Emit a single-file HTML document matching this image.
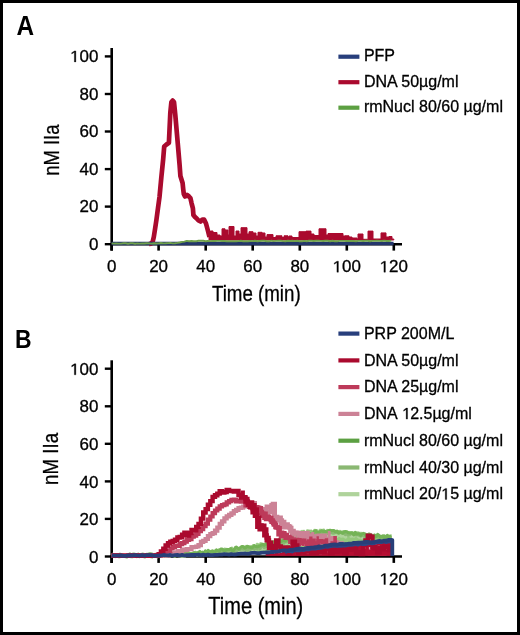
<!DOCTYPE html>
<html><head><meta charset="utf-8">
<style>
html,body{margin:0;padding:0;background:#fff;}
body{width:520px;height:635px;overflow:hidden;position:relative;}
#frame{position:absolute;left:0;top:0;width:520px;height:635px;box-sizing:border-box;border:3px solid #000;}
svg{position:absolute;left:0;top:0;will-change:transform;}
text{font-family:"Liberation Sans",sans-serif;fill:#000;}
.t{stroke:#000;stroke-width:0.3px;}
</style></head>
<body>
<div id="frame"></div>
<svg width="520" height="635" viewBox="0 0 520 635">
<text x="16.6" y="34.6" font-size="26.9" font-weight="bold" textLength="17.6" lengthAdjust="spacingAndGlyphs">A</text>
<line x1="111.7" y1="48.0" x2="111.7" y2="250.6" stroke="#000" stroke-width="2.6"/>
<line x1="110.4" y1="244.2" x2="402" y2="244.2" stroke="#000" stroke-width="2.6"/>
<line x1="104.8" y1="244.2" x2="111" y2="244.2" stroke="#000" stroke-width="2.4"/>
<g transform="translate(98.4,249.7) scale(1.06,1)"><text x="-8.90" y="0" font-size="16" class="t">0</text></g>
<line x1="104.8" y1="206.6" x2="111" y2="206.6" stroke="#000" stroke-width="2.4"/>
<g transform="translate(98.4,212.1) scale(1.06,1)"><text x="-17.80" y="0" font-size="16" class="t">20</text></g>
<line x1="104.8" y1="169.1" x2="111" y2="169.1" stroke="#000" stroke-width="2.4"/>
<g transform="translate(98.4,174.6) scale(1.06,1)"><text x="-17.80" y="0" font-size="16" class="t">40</text></g>
<line x1="104.8" y1="131.5" x2="111" y2="131.5" stroke="#000" stroke-width="2.4"/>
<g transform="translate(98.4,137.0) scale(1.06,1)"><text x="-17.80" y="0" font-size="16" class="t">60</text></g>
<line x1="104.8" y1="94.0" x2="111" y2="94.0" stroke="#000" stroke-width="2.4"/>
<g transform="translate(98.4,99.5) scale(1.06,1)"><text x="-17.80" y="0" font-size="16" class="t">80</text></g>
<line x1="104.8" y1="56.4" x2="111" y2="56.4" stroke="#000" stroke-width="2.4"/>
<g transform="translate(98.4,61.9) scale(1.06,1)"><text x="-26.70" y="0" font-size="16" class="t"> 00</text><path d="M515,0 L515,1237 L197,1010 L197,1180 L530,1409 L696,1409 L696,0 Z" transform="translate(-26.70,0) scale(0.007812,-0.007812)" fill="#000" stroke="#000" stroke-width="38.4"/></g>
<line x1="111.6" y1="244.2" x2="111.6" y2="250.6" stroke="#000" stroke-width="2.6"/>
<g transform="translate(111.6,272.2) scale(1.06,1)"><text x="-4.45" y="0" font-size="16" class="t">0</text></g>
<line x1="158.6" y1="244.2" x2="158.6" y2="250.6" stroke="#000" stroke-width="2.6"/>
<g transform="translate(158.6,272.2) scale(1.06,1)"><text x="-8.90" y="0" font-size="16" class="t">20</text></g>
<line x1="205.7" y1="244.2" x2="205.7" y2="250.6" stroke="#000" stroke-width="2.6"/>
<g transform="translate(205.7,272.2) scale(1.06,1)"><text x="-8.90" y="0" font-size="16" class="t">40</text></g>
<line x1="252.7" y1="244.2" x2="252.7" y2="250.6" stroke="#000" stroke-width="2.6"/>
<g transform="translate(252.7,272.2) scale(1.06,1)"><text x="-8.90" y="0" font-size="16" class="t">60</text></g>
<line x1="299.8" y1="244.2" x2="299.8" y2="250.6" stroke="#000" stroke-width="2.6"/>
<g transform="translate(299.8,272.2) scale(1.06,1)"><text x="-8.90" y="0" font-size="16" class="t">80</text></g>
<line x1="346.8" y1="244.2" x2="346.8" y2="250.6" stroke="#000" stroke-width="2.6"/>
<g transform="translate(346.8,272.2) scale(1.06,1)"><text x="-13.35" y="0" font-size="16" class="t"> 00</text><path d="M515,0 L515,1237 L197,1010 L197,1180 L530,1409 L696,1409 L696,0 Z" transform="translate(-13.35,0) scale(0.007812,-0.007812)" fill="#000" stroke="#000" stroke-width="38.4"/></g>
<line x1="393.8" y1="244.2" x2="393.8" y2="250.6" stroke="#000" stroke-width="2.6"/>
<g transform="translate(393.8,272.2) scale(1.06,1)"><text x="-13.35" y="0" font-size="16" class="t"> 20</text><path d="M515,0 L515,1237 L197,1010 L197,1180 L530,1409 L696,1409 L696,0 Z" transform="translate(-13.35,0) scale(0.007812,-0.007812)" fill="#000" stroke="#000" stroke-width="38.4"/></g>
<polygon points="209.0,240.0 209.0,236.0 210.5,236.0 210.5,231.0 213.0,231.0 213.0,232.5 217.0,232.5 217.0,235.0 220.0,235.0 220.0,236.0 222.0,236.0 222.0,228.8 225.0,228.8 225.0,230.0 228.0,230.0 228.0,235.0 229.0,235.0 229.0,226.5 234.0,226.5 234.0,236.0 236.0,236.0 236.0,231.0 239.0,231.0 239.0,234.0 241.0,234.0 241.0,227.7 247.0,227.7 247.0,234.0 249.0,234.0 249.0,231.7 253.0,231.7 253.0,233.0 256.0,233.0 256.0,236.0 258.0,236.0 258.0,232.3 262.0,232.3 262.0,233.0 265.0,233.0 265.0,237.0 267.0,237.0 267.0,234.6 273.0,234.6 273.0,237.5 276.0,237.5 276.0,235.8 282.0,235.8 282.0,237.5 284.0,237.5 284.0,235.8 288.0,235.8 288.0,237.0 289.0,237.0 289.0,236.0 292.0,236.0 292.0,237.5 299.0,237.5 299.0,231.7 306.0,231.7 306.0,231.1 311.0,231.1 311.0,234.0 314.0,234.0 314.0,235.5 319.0,235.5 319.0,228.8 326.0,228.8 326.0,235.0 328.0,235.0 328.0,233.5 343.0,233.5 343.0,236.0 345.0,236.0 345.0,235.8 349.0,235.8 349.0,237.0 352.0,237.0 352.0,238.0 357.0,238.0 357.0,239.0 358.0,239.0 358.0,234.0 363.0,234.0 363.0,239.3 368.0,239.3 368.0,231.1 373.0,231.1 373.0,239.0 381.0,239.0 381.0,232.9 386.0,232.9 386.0,237.0 389.0,237.0 389.0,236.5 392.0,236.5 392.0,239.0 393.8,239.0 393.8,240.0" fill="#aa0a2e" stroke="#aa0a2e" stroke-width="1.0" stroke-linejoin="round"/>
<polyline points="149.0,243.8 151.0,243.6 152.6,242.0 153.8,237.0 155.2,228.0 156.4,220.0 158.0,208.0 159.5,197.0 161.3,177.8 163.2,159.0 164.2,146.5 166.5,144.5 168.9,142.8 170.3,113.0 171.4,102.0 172.7,100.6 174.0,102.0 175.3,115.0 177.9,145.0 179.6,165.0 180.4,176.0 182.6,183.0 183.2,189.0 183.8,194.0 185.0,196.5 187.0,195.0 189.0,196.5 190.4,198.0 191.6,203.3 192.9,208.4 193.4,215.0 195.0,217.0 196.7,218.5 198.5,220.5 200.5,221.5 202.5,219.5 204.2,219.7 206.0,223.5 208.0,231.0 209.5,237.0" fill="none" stroke="#aa0a2e" stroke-width="4.7" stroke-linejoin="round" stroke-miterlimit="3"/>
<polyline points="111.6,243.5 393.6,243.5" fill="none" stroke="#24366c" stroke-width="3.6" stroke-linejoin="round" stroke-miterlimit="3"/>
<polyline points="111.6,243.4 113.9,243.6 116.3,243.5 118.6,243.6 121.0,243.6 123.3,243.3 125.7,243.2 128.0,243.7 130.4,243.3 132.7,243.3 135.1,243.7 137.4,243.4 139.8,243.6 142.1,243.4 144.5,243.5 146.8,243.2 149.2,243.4 151.5,243.6 153.9,243.3 156.2,243.5 158.6,243.4 160.9,243.0 163.3,243.4 165.6,243.3 168.0,243.1 170.3,242.9 172.7,243.4 175.0,243.2 177.4,242.9 179.7,242.5 182.1,241.9 184.4,241.6 186.8,240.9 189.1,241.2 191.5,241.0 193.8,241.3 196.2,241.2 198.5,240.8 200.9,240.8 203.2,240.8 205.6,241.3 207.9,241.0 210.3,241.1 212.6,240.9 215.0,241.0 217.3,240.9 219.7,240.9 222.0,241.0 224.4,241.0 226.7,241.2 229.1,241.1 231.4,241.2 233.8,241.2 236.1,241.3 238.5,241.1 240.8,240.8 243.2,241.2 245.5,241.3 247.9,241.2 250.2,241.0 252.6,241.1 254.9,240.8 257.3,241.2 259.6,241.0 262.0,240.8 264.3,240.7 266.7,241.2 269.0,241.3 271.4,240.7 273.7,241.1 276.1,240.9 278.4,240.7 280.8,240.8 283.1,241.1 285.5,241.2 287.8,240.7 290.2,241.0 292.6,240.7 294.9,241.1 297.3,240.8 299.6,241.2 302.0,241.2 304.3,240.9 306.7,241.2 309.0,240.8 311.4,240.7 313.7,241.0 316.1,240.7 318.4,240.8 320.8,240.9 323.1,241.0 325.5,240.7 327.8,240.7 330.2,241.2 332.5,240.8 334.9,241.2 337.2,241.2 339.6,240.9 341.9,240.9 344.3,240.9 346.6,241.0 349.0,241.0 351.3,241.0 353.7,241.0 356.0,241.2 358.4,240.9 360.7,240.9 363.1,241.0 365.4,240.8 367.8,240.8 370.1,241.2 372.5,240.9 374.8,240.9 377.2,240.6 379.5,240.9 381.9,241.0 384.2,240.6 386.6,241.0 388.9,241.0 391.3,240.6" fill="none" stroke="#6fa04a" stroke-width="1.9" stroke-linejoin="round" stroke-miterlimit="3"/>
<text x="211.9" y="300.8" font-size="21.5" textLength="88.8" lengthAdjust="spacingAndGlyphs" class="t">Time (min)</text>
<text transform="translate(58.6,175.8) rotate(-90)" x="0" y="0" font-size="21.5" textLength="51.2" lengthAdjust="spacingAndGlyphs" class="t">nM IIa</text>
<rect x="338.4" y="54.6" width="21" height="4.2" fill="#283f7c"/>
<g transform="translate(363.9,61.0)"><text x="0.00" y="0" font-size="16" class="t">PFP</text></g>
<rect x="338.4" y="80.1" width="21" height="4.2" fill="#aa0a2e"/>
<g transform="translate(363.9,86.5)"><text x="0.00" y="0" font-size="16" class="t">DNA 50µg/ml</text></g>
<rect x="338.4" y="105.6" width="21" height="4.2" fill="#5ca042"/>
<g transform="translate(363.9,112.0)"><text x="0.00" y="0" font-size="16" class="t">rmNucl 80/60 µg/ml</text></g>
<text x="15.0" y="347.8" font-size="26.2" font-weight="bold" textLength="16.6" lengthAdjust="spacingAndGlyphs">B</text>
<line x1="111.7" y1="360.3" x2="111.7" y2="562.9" stroke="#000" stroke-width="2.6"/>
<line x1="110.4" y1="556.5" x2="402" y2="556.5" stroke="#000" stroke-width="2.6"/>
<line x1="104.8" y1="556.5" x2="111" y2="556.5" stroke="#000" stroke-width="2.4"/>
<g transform="translate(98.4,562.6) scale(1.06,1)"><text x="-8.90" y="0" font-size="16" class="t">0</text></g>
<line x1="104.8" y1="518.9" x2="111" y2="518.9" stroke="#000" stroke-width="2.4"/>
<g transform="translate(98.4,525.0) scale(1.06,1)"><text x="-17.80" y="0" font-size="16" class="t">20</text></g>
<line x1="104.8" y1="481.4" x2="111" y2="481.4" stroke="#000" stroke-width="2.4"/>
<g transform="translate(98.4,487.5) scale(1.06,1)"><text x="-17.80" y="0" font-size="16" class="t">40</text></g>
<line x1="104.8" y1="443.8" x2="111" y2="443.8" stroke="#000" stroke-width="2.4"/>
<g transform="translate(98.4,449.9) scale(1.06,1)"><text x="-17.80" y="0" font-size="16" class="t">60</text></g>
<line x1="104.8" y1="406.3" x2="111" y2="406.3" stroke="#000" stroke-width="2.4"/>
<g transform="translate(98.4,412.4) scale(1.06,1)"><text x="-17.80" y="0" font-size="16" class="t">80</text></g>
<line x1="104.8" y1="368.7" x2="111" y2="368.7" stroke="#000" stroke-width="2.4"/>
<g transform="translate(98.4,374.8) scale(1.06,1)"><text x="-26.70" y="0" font-size="16" class="t"> 00</text><path d="M515,0 L515,1237 L197,1010 L197,1180 L530,1409 L696,1409 L696,0 Z" transform="translate(-26.70,0) scale(0.007812,-0.007812)" fill="#000" stroke="#000" stroke-width="38.4"/></g>
<line x1="111.6" y1="556.5" x2="111.6" y2="562.9" stroke="#000" stroke-width="2.6"/>
<g transform="translate(111.6,584.5) scale(1.06,1)"><text x="-4.45" y="0" font-size="16" class="t">0</text></g>
<line x1="158.6" y1="556.5" x2="158.6" y2="562.9" stroke="#000" stroke-width="2.6"/>
<g transform="translate(158.6,584.5) scale(1.06,1)"><text x="-8.90" y="0" font-size="16" class="t">20</text></g>
<line x1="205.7" y1="556.5" x2="205.7" y2="562.9" stroke="#000" stroke-width="2.6"/>
<g transform="translate(205.7,584.5) scale(1.06,1)"><text x="-8.90" y="0" font-size="16" class="t">40</text></g>
<line x1="252.7" y1="556.5" x2="252.7" y2="562.9" stroke="#000" stroke-width="2.6"/>
<g transform="translate(252.7,584.5) scale(1.06,1)"><text x="-8.90" y="0" font-size="16" class="t">60</text></g>
<line x1="299.8" y1="556.5" x2="299.8" y2="562.9" stroke="#000" stroke-width="2.6"/>
<g transform="translate(299.8,584.5) scale(1.06,1)"><text x="-8.90" y="0" font-size="16" class="t">80</text></g>
<line x1="346.8" y1="556.5" x2="346.8" y2="562.9" stroke="#000" stroke-width="2.6"/>
<g transform="translate(346.8,584.5) scale(1.06,1)"><text x="-13.35" y="0" font-size="16" class="t"> 00</text><path d="M515,0 L515,1237 L197,1010 L197,1180 L530,1409 L696,1409 L696,0 Z" transform="translate(-13.35,0) scale(0.007812,-0.007812)" fill="#000" stroke="#000" stroke-width="38.4"/></g>
<line x1="393.8" y1="556.5" x2="393.8" y2="562.9" stroke="#000" stroke-width="2.6"/>
<g transform="translate(393.8,584.5) scale(1.06,1)"><text x="-13.35" y="0" font-size="16" class="t"> 20</text><path d="M515,0 L515,1237 L197,1010 L197,1180 L530,1409 L696,1409 L696,0 Z" transform="translate(-13.35,0) scale(0.007812,-0.007812)" fill="#000" stroke="#000" stroke-width="38.4"/></g>
<polygon points="150.0,556.1 151.8,556.1 151.8,555.3 153.6,555.3 153.6,555.1 155.4,555.1 155.4,556.1 157.2,556.1 157.2,554.8 159.0,554.8 159.0,555.4 160.8,555.4 160.8,555.6 162.6,555.6 162.6,555.6 164.4,555.6 164.4,554.8 166.2,554.8 166.2,555.6 168.0,555.6 168.0,555.2 169.8,555.2 169.8,555.7 171.6,555.7 171.6,554.2 173.4,554.2 173.4,555.7 175.2,555.7 175.2,554.2 177.0,554.2 177.0,555.2 178.8,555.2 178.8,554.6 180.6,554.6 180.6,555.0 182.4,555.0 182.4,553.7 184.2,553.7 184.2,553.7 186.0,553.7 186.0,553.1 187.8,553.1 187.8,554.1 189.6,554.1 189.6,553.5 191.4,553.5 191.4,552.7 193.2,552.7 193.2,552.4 195.0,552.4 195.0,552.0 196.8,552.0 196.8,552.0 198.6,552.0 198.6,552.5 200.4,552.5 200.4,552.0 202.2,552.0 202.2,552.2 204.0,552.2 204.0,550.8 205.8,550.8 205.8,552.0 207.6,552.0 207.6,551.9 209.4,551.9 209.4,551.2 211.2,551.2 211.2,551.0 213.0,551.0 213.0,550.9 214.8,550.9 214.8,549.3 216.6,549.3 216.6,549.7 218.4,549.7 218.4,548.7 220.2,548.7 220.2,549.7 222.0,549.7 222.0,549.0 223.8,549.0 223.8,548.0 225.6,548.0 225.6,548.3 227.4,548.3 227.4,548.7 229.2,548.7 229.2,548.1 231.0,548.1 231.0,547.1 232.8,547.1 232.8,548.3 234.6,548.3 234.6,546.5 236.4,546.5 236.4,547.7 238.2,547.7 238.2,547.7 240.0,547.7 240.0,547.1 241.8,547.1 241.8,547.2 243.6,547.2 243.6,546.2 245.4,546.2 245.4,545.4 247.2,545.4 247.2,545.6 249.0,545.6 249.0,545.8 250.8,545.8 250.8,545.5 252.6,545.5 252.6,544.5 254.4,544.5 254.4,545.2 256.2,545.2 256.2,543.3 258.0,543.3 258.0,543.8 259.8,543.8 259.8,542.7 261.6,542.7 261.6,543.0 263.4,543.0 263.4,543.8 265.2,543.8 265.2,541.9 267.0,541.9 267.0,543.2 268.8,543.2 268.8,542.8 270.6,542.8 270.6,542.1 272.4,542.1 272.4,540.6 274.2,540.6 274.2,541.1 276.0,541.1 276.0,541.1 277.8,541.1 277.8,539.5 279.6,539.5 279.6,539.4 281.4,539.4 281.4,538.6 283.2,538.6 283.2,539.4 285.0,539.4 285.0,539.1 286.8,539.1 286.8,538.6 288.6,538.6 288.6,537.8 290.4,537.8 290.4,536.9 292.2,536.9 292.2,535.0 294.0,535.0 294.0,534.8 295.8,534.8 295.8,534.3 297.6,534.3 297.6,533.3 299.4,533.3 299.4,531.0 301.2,531.0 301.2,530.4 303.0,530.4 303.0,530.3 304.8,530.3 304.8,531.5 306.6,531.5 306.6,529.8 308.4,529.8 308.4,530.0 310.2,530.0 310.2,530.0 312.0,530.0 312.0,530.7 313.8,530.7 313.8,529.3 315.6,529.3 315.6,529.5 317.4,529.5 317.4,530.4 319.2,530.4 319.2,529.2 321.0,529.2 321.0,529.3 322.8,529.3 322.8,529.0 324.6,529.0 324.6,530.7 326.4,530.7 326.4,529.4 328.2,529.4 328.2,529.8 330.0,529.8 330.0,529.6 331.8,529.6 331.8,530.9 333.6,530.9 333.6,530.6 335.4,530.6 335.4,530.6 337.2,530.6 337.2,530.6 339.0,530.6 339.0,530.4 340.8,530.4 340.8,531.6 342.6,531.6 342.6,530.5 344.4,530.5 344.4,531.7 346.2,531.7 346.2,531.3 348.0,531.3 348.0,531.4 349.8,531.4 349.8,531.9 351.6,531.9 351.6,531.6 353.4,531.6 353.4,532.5 355.2,532.5 355.2,531.7 357.0,531.7 357.0,531.8 358.8,531.8 358.8,532.2 360.6,532.2 360.6,532.3 362.4,532.3 362.4,533.9 364.2,533.9 364.2,533.4 366.0,533.4 366.0,533.9 367.8,533.9 367.8,534.3 369.6,534.3 369.6,533.4 371.4,533.4 371.4,535.0 373.2,535.0 373.2,534.1 375.0,534.1 375.0,534.4 376.8,534.4 376.8,534.6 378.6,534.6 378.6,535.2 380.4,535.2 380.4,535.5 382.2,535.5 382.2,534.6 384.0,534.6 384.0,535.9 385.8,535.9 385.8,535.3 387.6,535.3 387.6,535.2 389.4,535.2 389.4,536.4 391.2,536.4 391.2,536.6 392.0,540.0 380.0,541.1 360.0,542.8 340.0,544.2 320.0,546.4 300.0,548.9 280.0,551.1 260.0,552.8 240.0,553.9 220.0,554.6 200.0,555.0 180.0,555.2 160.0,555.4 150.0,555.4" fill="#95c87c" stroke="#95c87c" stroke-width="0.8" stroke-linejoin="round"/>
<polyline points="111.6,554.3 113.0,554.6 114.4,555.2 115.8,555.9 117.2,554.6 118.6,554.6 120.0,554.9 121.4,556.1 122.8,554.7 124.2,556.1 125.6,555.9 127.0,554.6 128.4,555.6 129.8,555.4 131.2,555.3 132.6,556.7 134.0,554.5 135.4,554.3 136.8,556.6 138.2,555.3 139.6,554.8 141.0,555.1 142.4,555.2 143.8,556.6 145.2,554.8 146.6,554.8 148.0,555.7 149.4,555.6 150.8,556.6 152.2,556.3 153.6,555.2 155.0,554.8 156.4,556.3 157.8,556.7 159.2,554.4 160.6,556.1 162.0,556.4 163.4,555.9 164.8,554.8 166.2,556.2 167.6,556.1 169.0,554.8 170.4,555.8 171.8,554.8 173.2,554.3 174.6,555.0 176.0,554.9 177.4,555.0 178.8,555.6 180.2,556.0 181.6,556.2 183.0,556.2 184.4,556.2 185.8,555.6 187.2,554.4 188.6,554.0 190.0,555.0 191.4,554.7 192.8,555.0 194.2,553.5 195.6,553.7 197.0,555.3 198.4,554.5 199.8,554.6 201.2,553.1 202.6,553.8 204.0,554.9 205.4,554.2 206.8,554.9 208.2,552.9 209.6,553.5 211.0,554.2 212.4,553.3 213.8,554.0 215.2,553.4 216.6,552.3 218.0,552.2 219.4,554.2 220.8,552.0 222.2,552.1 223.6,552.3 225.0,553.1 226.4,553.3 227.8,552.3 229.2,552.2 230.6,552.8 232.0,551.5 233.4,551.6 234.8,552.0 236.2,552.0 237.6,550.4 239.0,550.5 240.4,550.4 241.8,551.7 243.2,551.5 244.6,552.1 246.0,551.5 247.4,550.1 248.8,551.2 250.2,551.6 251.6,549.9 253.0,548.9 254.4,549.5 255.8,549.1 257.2,548.6 258.6,548.1 260.0,548.1 261.4,549.7 262.8,547.5 264.2,548.6 265.6,547.5 267.0,547.2 268.4,548.5 269.8,547.0 271.2,546.6 272.6,547.0 274.0,547.4 275.4,546.7 276.8,547.3 278.2,546.0 279.6,546.1 281.0,546.2 282.4,545.1 283.8,545.3 285.2,544.2 286.6,543.0 288.0,542.5 289.4,543.6 290.8,543.1 292.2,543.1 293.6,542.0 295.0,541.3 296.4,539.9 297.8,541.1 299.2,538.8 300.6,539.2 302.0,538.4 303.4,538.8 304.8,538.4 306.2,538.5 307.6,539.0 309.0,538.4 310.4,537.5 311.8,538.6 313.2,538.3 314.6,538.3 316.0,536.2 317.4,537.5 318.8,537.9 320.2,536.2 321.6,535.9 323.0,537.2 324.4,535.9 325.8,535.8 327.2,536.6 328.6,535.4 330.0,534.8 331.4,534.9 332.8,535.2 334.2,536.1 335.6,535.4 337.0,536.4 338.4,534.7 339.8,535.2 341.2,536.2 342.6,535.9 344.0,536.0 345.4,537.1 346.8,535.5 348.2,535.3 349.6,535.0 351.0,536.2 352.4,535.8 353.8,536.2 355.2,535.2 356.6,535.2 358.0,536.1 359.4,537.1 360.8,536.1 362.2,537.7 363.6,537.0 365.0,536.7 366.4,537.7 367.8,536.5 369.2,537.5 370.6,538.2 372.0,537.5 373.4,537.1 374.8,536.7 376.2,537.9 377.6,537.1 379.0,537.7 380.4,538.2 381.8,539.3 383.2,538.7 384.6,538.5 386.0,539.4 387.4,538.2 388.8,538.5 390.2,539.3 391.6,539.1" fill="none" stroke="#afd39b" stroke-width="3.2" stroke-linejoin="round" stroke-miterlimit="3"/>
<polyline points="111.6,554.3 113.0,554.7 114.4,554.9 115.8,556.6 117.2,555.5 118.6,556.1 120.0,554.3 121.4,555.5 122.8,556.4 124.2,555.5 125.6,556.7 127.0,556.5 128.4,555.1 129.8,554.0 131.2,556.1 132.6,554.4 134.0,554.0 135.4,556.1 136.8,556.4 138.2,556.3 139.6,556.7 141.0,554.6 142.4,554.2 143.8,554.3 145.2,556.7 146.6,554.3 148.0,554.4 149.4,554.0 150.8,554.1 152.2,554.1 153.6,554.9 155.0,554.4 156.4,554.8 157.8,556.5 159.2,554.4 160.6,556.2 162.0,556.0 163.4,555.5 164.8,555.5 166.2,556.0 167.6,555.5 169.0,554.4 170.4,554.7 171.8,554.4 173.2,554.8 174.6,556.4 176.0,554.7 177.4,553.7 178.8,554.7 180.2,555.6 181.6,554.5 183.0,555.1 184.4,553.3 185.8,553.1 187.2,554.7 188.6,552.9 190.0,553.5 191.4,553.7 192.8,553.1 194.2,552.5 195.6,552.4 197.0,554.9 198.4,554.1 199.8,554.8 201.2,553.4 202.6,554.6 204.0,554.2 205.4,553.4 206.8,553.0 208.2,552.8 209.6,551.9 211.0,552.2 212.4,553.1 213.8,551.5 215.2,553.2 216.6,552.1 218.0,552.3 219.4,552.8 220.8,552.2 222.2,550.6 223.6,550.8 225.0,550.0 226.4,550.0 227.8,552.4 229.2,551.3 230.6,552.2 232.0,551.6 233.4,550.1 234.8,551.7 236.2,551.5 237.6,550.0 239.0,548.8 240.4,549.3 241.8,548.7 243.2,549.1 244.6,548.1 246.0,549.7 247.4,550.3 248.8,548.0 250.2,549.4 251.6,548.7 253.0,548.3 254.4,549.3 255.8,547.6 257.2,548.7 258.6,546.4 260.0,548.8 261.4,546.3 262.8,545.5 264.2,547.7 265.6,546.9 267.0,546.5 268.4,546.4 269.8,545.0 271.2,544.0 272.6,544.3 274.0,545.7 275.4,545.5 276.8,543.1 278.2,543.4 279.6,543.1 281.0,544.1 282.4,541.3 283.8,543.3 285.2,541.3 286.6,541.9 288.0,540.4 289.4,540.0 290.8,541.8 292.2,540.1 293.6,540.9 295.0,540.0 296.4,539.1 297.8,536.7 299.2,537.6 300.6,538.1 302.0,536.2 303.4,534.4 304.8,534.2 306.2,536.2 307.6,536.1 309.0,533.9 310.4,534.0 311.8,534.9 313.2,534.2 314.6,533.2 316.0,535.3 317.4,534.1 318.8,533.2 320.2,532.1 321.6,533.4 323.0,533.9 324.4,532.2 325.8,531.8 327.2,533.4 328.6,533.8 330.0,532.2 331.4,532.5 332.8,533.1 334.2,532.9 335.6,531.9 337.0,532.4 338.4,532.3 339.8,532.4 341.2,532.2 342.6,533.1 344.0,532.8 345.4,534.6 346.8,533.3 348.2,535.2 349.6,534.8 351.0,533.5 352.4,533.3 353.8,534.7 355.2,534.6 356.6,534.9 358.0,533.9 359.4,535.3 360.8,536.1 362.2,535.4 363.6,535.0 365.0,537.1 366.4,535.5 367.8,537.6 369.2,536.9 370.6,535.1 372.0,536.5 373.4,535.7 374.8,537.6 376.2,536.7 377.6,535.9 379.0,538.4 380.4,538.0 381.8,537.6 383.2,537.6 384.6,536.3 386.0,538.9 387.4,537.1 388.8,537.8 390.2,537.8 391.6,537.9" fill="none" stroke="#8ab872" stroke-width="3.2" stroke-linejoin="round" stroke-miterlimit="3"/>
<polyline points="111.6,555.7 113.0,555.9 114.4,556.5 115.8,554.8 117.2,556.0 118.6,556.7 120.0,556.8 121.4,554.5 122.8,555.9 124.2,555.8 125.6,555.5 127.0,556.9 128.4,555.5 129.8,555.2 131.2,556.8 132.6,555.8 134.0,554.8 135.4,554.8 136.8,555.4 138.2,554.0 139.6,555.7 141.0,556.1 142.4,555.1 143.8,556.5 145.2,556.7 146.6,555.5 148.0,555.9 149.4,554.1 150.8,553.9 152.2,556.9 153.6,554.6 155.0,554.4 156.4,556.6 157.8,556.1 159.2,554.1 160.6,554.7 162.0,554.4 163.4,554.4 164.8,553.5 166.2,555.1 167.6,554.4 169.0,554.6 170.4,553.8 171.8,553.5 173.2,553.2 174.6,555.8 176.0,555.3 177.4,554.6 178.8,553.1 180.2,553.1 181.6,552.9 183.0,553.5 184.4,552.6 185.8,553.2 187.2,552.8 188.6,552.7 190.0,554.1 191.4,553.4 192.8,553.4 194.2,552.9 195.6,553.4 197.0,554.0 198.4,552.3 199.8,551.4 201.2,552.6 202.6,552.1 204.0,553.2 205.4,550.9 206.8,553.2 208.2,550.3 209.6,551.9 211.0,551.4 212.4,550.8 213.8,552.5 215.2,551.8 216.6,549.9 218.0,550.8 219.4,551.0 220.8,549.0 222.2,549.0 223.6,550.5 225.0,550.8 226.4,549.8 227.8,549.5 229.2,549.6 230.6,548.6 232.0,550.4 233.4,550.5 234.8,548.7 236.2,547.0 237.6,548.0 239.0,549.1 240.4,547.4 241.8,546.5 243.2,546.5 244.6,548.0 246.0,547.5 247.4,546.2 248.8,547.1 250.2,547.3 251.6,547.8 253.0,547.1 254.4,545.6 255.8,546.6 257.2,546.8 258.6,546.4 260.0,545.8 261.4,545.0 262.8,544.4 264.2,545.2 265.6,544.2 267.0,544.2 268.4,542.3 269.8,541.6 271.2,541.8 272.6,542.5 274.0,542.2 275.4,540.7 276.8,540.4 278.2,542.5 279.6,539.4 281.0,541.8 282.4,541.0 283.8,540.1 285.2,541.1 286.6,539.8 288.0,537.4 289.4,540.0 290.8,537.9 292.2,539.0 293.6,538.2 295.0,535.5 296.4,534.7 297.8,534.1 299.2,536.0 300.6,535.5 302.0,533.2 303.4,532.3 304.8,532.6 306.2,533.9 307.6,533.6 309.0,533.9 310.4,534.2 311.8,533.4 313.2,533.6 314.6,530.9 316.0,530.8 317.4,533.4 318.8,532.6 320.2,531.5 321.6,530.8 323.0,531.4 324.4,531.3 325.8,531.7 327.2,531.5 328.6,530.6 330.0,530.2 331.4,530.7 332.8,530.6 334.2,530.6 335.6,531.8 337.0,531.0 338.4,533.3 339.8,532.6 341.2,532.5 342.6,533.2 344.0,532.1 345.4,531.5 346.8,531.8 348.2,532.8 349.6,533.0 351.0,532.8 352.4,533.1 353.8,534.9 355.2,532.4 356.6,534.0 358.0,533.9 359.4,533.7 360.8,535.3 362.2,533.8 363.6,533.3 365.0,533.8 366.4,536.5 367.8,534.6 369.2,534.0 370.6,536.9 372.0,535.9 373.4,537.0 374.8,535.1 376.2,536.8 377.6,534.4 379.0,535.2 380.4,537.1 381.8,536.3 383.2,537.3 384.6,536.1 386.0,537.8 387.4,535.3 388.8,537.2 390.2,535.9 391.6,536.0" fill="none" stroke="#74b356" stroke-width="3.0" stroke-linejoin="round" stroke-miterlimit="3"/>
<polyline points="111.6,555.6 113.9,555.6 113.9,555.5 116.3,555.5 116.3,555.5 118.6,555.5 118.6,555.8 121.0,555.8 121.0,555.6 123.3,555.6 123.3,555.7 125.7,555.7 125.7,555.6 128.0,555.6 128.0,555.6 130.4,555.6 130.4,555.7 132.7,555.7 132.7,555.6 135.1,555.6 135.1,555.7 137.4,555.7 137.4,555.7 139.8,555.7 139.8,555.7 142.1,555.7 142.1,555.6 144.5,555.6 144.5,555.5 146.8,555.5 146.8,555.5 149.2,555.5 149.2,555.7 151.5,555.7 151.5,555.5 153.9,555.5 153.9,555.7 156.2,555.7 156.2,555.6 158.6,555.6 158.6,555.4 160.9,555.4 160.9,555.7 163.3,555.7 163.3,555.4 165.6,555.4 165.6,555.6 168.0,555.6 168.0,554.8 170.3,554.8 170.3,553.5 172.7,553.5 172.7,553.7 175.0,553.7 175.0,552.9 177.4,552.9 177.4,551.1 179.7,551.1 179.7,551.3 182.1,551.3 182.1,549.5 184.4,549.5 184.4,550.2 186.8,550.2 186.8,549.1 189.1,549.1 189.1,549.2 191.5,549.2 191.5,547.1 193.8,547.1 193.8,547.0 196.2,547.0 196.2,546.5 198.5,546.5 198.5,545.1 200.9,545.1 200.9,541.9 203.2,541.9 203.2,540.9 205.6,540.9 205.6,539.0 207.9,539.0 207.9,536.1 210.3,536.1 210.3,534.0 212.6,534.0 212.6,533.2 215.0,533.2 215.0,530.7 217.3,530.7 217.3,527.7 219.7,527.7 219.7,523.9 222.0,523.9 222.0,521.4 224.4,521.4 224.4,518.4 226.7,518.4 226.7,516.4 229.1,516.4 229.1,514.8 231.4,514.8 231.4,513.3 233.8,513.3 233.8,511.0 236.1,511.0 236.1,509.9 238.5,509.9 238.5,508.0 240.8,508.0 240.8,507.6 243.2,507.6 243.2,506.5 245.5,506.5 245.5,505.7 247.9,505.7 247.9,505.3 250.2,505.3 250.2,503.4 252.6,503.4 252.6,503.2 254.9,503.2 254.9,508.2 257.3,508.2 257.3,509.7 259.6,509.7 259.6,510.9 262.0,510.9 262.0,509.0 264.3,509.0 264.3,512.3 266.7,512.3 266.7,506.6 269.0,506.6 269.0,506.5 271.4,506.5 271.4,505.1 273.7,505.1 273.7,518.1 276.1,518.1 276.1,517.8 278.4,517.8 278.4,517.7 280.8,517.7 280.8,523.6 283.1,523.6 283.1,527.5 285.5,527.5 285.5,524.3 287.8,524.3 287.8,526.6 290.2,526.6 290.2,531.3 292.6,531.3 292.6,533.5 294.9,533.5 294.9,532.6 297.3,532.6 297.3,533.5 299.6,533.5 299.6,537.0 302.0,537.0 302.0,533.2 304.3,533.2 304.3,533.2 306.7,533.2 306.7,536.8 309.0,536.8 309.0,535.4 311.4,535.4 311.4,540.1 313.7,540.1 313.7,536.4 316.1,536.4 316.1,539.2 318.4,539.2 318.4,535.5 320.8,535.5 320.8,539.5 323.1,539.5 323.1,539.7 325.5,539.7 325.5,540.6 327.8,540.6 327.8,538.9 330.2,538.9 330.2,539.9 332.5,539.9 332.5,540.4 334.9,540.4 334.9,542.2 337.2,542.2 337.2,546.0 339.6,546.0 339.6,543.3 341.9,543.3 341.9,545.2 344.3,545.2 344.3,548.1 346.6,548.1 346.6,546.1 349.0,546.1 349.0,547.5 351.3,547.5 351.3,547.2 353.7,547.2 353.7,550.2 356.0,550.2 356.0,547.2 358.4,547.2 358.4,552.8 360.7,552.8 360.7,550.6 363.1,550.6 363.1,551.5 365.4,551.5 365.4,550.7 367.8,550.7 367.8,550.5 370.1,550.5 370.1,553.5 372.5,553.5 372.5,553.1 374.8,553.1 374.8,552.9 377.2,552.9 377.2,548.3 379.5,548.3 379.5,551.8 381.9,551.8 381.9,554.0 384.2,554.0 384.2,552.3 386.6,552.3 386.6,551.7 388.9,551.7 388.9,552.7 391.3,552.7 391.3,550.0" fill="none" stroke="#cc8296" stroke-width="4.2" stroke-linejoin="miter" stroke-miterlimit="3"/>
<polyline points="251.5,508.0 253.8,508.0 253.8,509.1 256.2,509.1 256.2,507.3 258.6,507.3 258.6,509.6 260.9,509.6 260.9,512.4 263.3,512.4 263.3,512.7 265.6,512.7 265.6,513.7 268.0,513.7 268.0,512.1 270.3,512.1 270.3,507.1 272.7,507.1 272.7,503.8 275.0,503.8 275.0,516.8 277.4,516.8 277.4,520.6 279.7,520.6 279.7,520.3 282.1,520.3 282.1,521.7 284.4,521.7 284.4,527.0 286.8,527.0 286.8,525.9 289.1,525.9 289.1,527.8 291.5,527.8 291.5,530.8 293.8,530.8 293.8,532.8 296.2,532.8 296.2,533.1 298.5,533.1 298.5,535.2 300.9,535.2 300.9,536.3 303.2,536.3 303.2,535.3 305.6,535.3 305.6,537.0" fill="none" stroke="#cc8296" stroke-width="4.0" stroke-linejoin="miter" stroke-miterlimit="3"/>
<path d="M290.0,546 V530.6 H293.2 V546 Z M293.5,546 V535.1 H296.2 V546 Z M296.6,546 V534.5 H299.8 V546 Z M300.6,546 V532.9 H305.4 V546 Z M306.0,546 V530.7 H309.8 V546 Z M311.2,546 V532.1 H314.3 V546 Z M315.3,546 V534.3 H317.8 V546 Z M319.1,546 V536.6 H322.1 V546 Z M322.9,546 V533.5 H327.2 V546 Z M327.8,546 V531.0 H330.6 V546 Z M330.9,546 V536.0 H335.9 V546 Z" fill="#cc8296"/>
<polyline points="111.6,555.7 113.9,555.7 113.9,555.4 116.3,555.4 116.3,555.5 118.6,555.5 118.6,555.5 121.0,555.5 121.0,555.7 123.3,555.7 123.3,555.7 125.7,555.7 125.7,555.8 128.0,555.8 128.0,555.4 130.4,555.4 130.4,555.6 132.7,555.6 132.7,555.4 135.1,555.4 135.1,555.5 137.4,555.5 137.4,555.6 139.8,555.6 139.8,555.4 142.1,555.4 142.1,555.5 144.5,555.5 144.5,555.7 146.8,555.7 146.8,555.6 149.2,555.6 149.2,555.5 151.5,555.5 151.5,555.6 153.9,555.6 153.9,555.7 156.2,555.7 156.2,555.4 158.6,555.4 158.6,555.7 160.9,555.7 160.9,554.9 163.3,554.9 163.3,553.1 165.6,553.1 165.6,551.0 168.0,551.0 168.0,551.2 170.3,551.2 170.3,548.5 172.7,548.5 172.7,546.8 175.0,546.8 175.0,545.7 177.4,545.7 177.4,546.0 179.7,546.0 179.7,544.2 182.1,544.2 182.1,543.2 184.4,543.2 184.4,541.7 186.8,541.7 186.8,539.8 189.1,539.8 189.1,539.2 191.5,539.2 191.5,536.7 193.8,536.7 193.8,535.6 196.2,535.6 196.2,534.0 198.5,534.0 198.5,531.1 200.9,531.1 200.9,529.2 203.2,529.2 203.2,526.1 205.6,526.1 205.6,523.6 207.9,523.6 207.9,519.6 210.3,519.6 210.3,516.5 212.6,516.5 212.6,513.2 215.0,513.2 215.0,510.5 217.3,510.5 217.3,508.6 219.7,508.6 219.7,506.4 222.0,506.4 222.0,505.2 224.4,505.2 224.4,504.4 226.7,504.4 226.7,502.3 229.1,502.3 229.1,501.1 231.4,501.1 231.4,499.8 233.8,499.8 233.8,499.7 236.1,499.7 236.1,501.3 238.5,501.3 238.5,501.2 240.8,501.2 240.8,501.7 243.2,501.7 243.2,501.7 245.5,501.7 245.5,505.5 247.9,505.5 247.9,503.1 250.2,503.1 250.2,505.1 252.6,505.1 252.6,509.1 254.9,509.1 254.9,507.2 257.3,507.2 257.3,507.9 259.6,507.9 259.6,511.9 262.0,511.9 262.0,516.0 264.3,516.0 264.3,517.9 266.7,517.9 266.7,516.7 269.0,516.7 269.0,517.8 271.4,517.8 271.4,521.9 273.7,521.9 273.7,524.6 276.1,524.6 276.1,527.4 278.4,527.4 278.4,534.5 280.8,534.5 280.8,536.3 283.1,536.3 283.1,534.5 285.5,534.5 285.5,537.8 287.8,537.8 287.8,537.5 290.2,537.5 290.2,541.8 292.6,541.8 292.6,540.3 294.9,540.3 294.9,539.8 297.3,539.8 297.3,540.0 299.6,540.0 299.6,542.3 302.0,542.3 302.0,540.6 304.3,540.6 304.3,542.5 306.7,542.5 306.7,544.4 309.0,544.4 309.0,541.4 311.4,541.4 311.4,540.6 313.7,540.6 313.7,545.7 316.1,545.7 316.1,543.3 318.4,543.3 318.4,541.2 320.8,541.2 320.8,541.4 323.1,541.4 323.1,542.1 325.5,542.1 325.5,545.6 327.8,545.6 327.8,546.9 330.2,546.9 330.2,545.1 332.5,545.1 332.5,543.3 334.9,543.3 334.9,545.5 337.2,545.5 337.2,549.6 339.6,549.6 339.6,547.1 341.9,547.1 341.9,550.1 344.3,550.1 344.3,549.8 346.6,549.8 346.6,545.1 349.0,545.1 349.0,549.7 351.3,549.7 351.3,549.8 353.7,549.8 353.7,549.3 356.0,549.3 356.0,548.0 358.4,548.0 358.4,550.6 360.7,550.6 360.7,547.7 363.1,547.7 363.1,549.8 365.4,549.8 365.4,550.1 367.8,550.1 367.8,553.2 370.1,553.2 370.1,552.9 372.5,552.9 372.5,549.4 374.8,549.4 374.8,550.9 377.2,550.9 377.2,549.1 379.5,549.1 379.5,553.7 381.9,553.7 381.9,553.6 384.2,553.6 384.2,550.3 386.6,550.3 386.6,552.5 388.9,552.5 388.9,552.5 391.3,552.5 391.3,549.9" fill="none" stroke="#bd3a5a" stroke-width="4.2" stroke-linejoin="miter" stroke-miterlimit="3"/>
<polyline points="247.0,507.1 249.3,507.1 249.3,504.6 251.7,504.6 251.7,508.1 254.0,508.1 254.0,507.6 256.4,507.6 256.4,509.6 258.8,509.6 258.8,508.0 261.1,508.0 261.1,513.2 263.5,513.2 263.5,513.4 265.8,513.4 265.8,519.2 268.2,519.2 268.2,519.0 270.5,519.0 270.5,520.2 272.9,520.2 272.9,523.3 275.2,523.3 275.2,527.3 277.6,527.3 277.6,528.1 279.9,528.1 279.9,532.4 282.3,532.4 282.3,533.0 284.6,533.0 284.6,535.1 287.0,535.1 287.0,536.8 289.3,536.8 289.3,538.2 291.7,538.2 291.7,539.6 294.0,539.6 294.0,542.9 296.4,542.9 296.4,542.3 298.7,542.3 298.7,544.4 301.1,544.4 301.1,544.9" fill="none" stroke="#bd3a5a" stroke-width="4.0" stroke-linejoin="miter" stroke-miterlimit="3"/>
<path d="M296.0,546 V541.0 H298.7 V546 Z M302.1,546 V538.8 H304.2 V546 Z M309.2,546 V536.4 H312.5 V546 Z M316.5,546 V536.2 H318.9 V546 Z M324.8,546 V538.2 H328.2 V546 Z M333.3,546 V536.0 H336.9 V546 Z" fill="#bd3a5a"/>
<polygon points="266.0,553.7 267.5,553.7 267.5,553.8 269.0,553.8 269.0,553.8 270.5,553.8 270.5,554.0 272.0,554.0 272.0,553.6 273.5,553.6 273.5,553.8 275.0,553.8 275.0,552.3 276.5,552.3 276.5,552.9 278.0,552.9 278.0,553.5 279.5,553.5 279.5,552.9 281.0,552.9 281.0,553.1 282.5,553.1 282.5,551.7 284.0,551.7 284.0,552.1 285.5,552.1 285.5,551.6 287.0,551.6 287.0,551.9 288.5,551.9 288.5,551.8 290.0,551.8 290.0,550.7 291.5,550.7 291.5,550.9 293.0,550.9 293.0,550.8 294.5,550.8 294.5,551.7 296.0,551.7 296.0,551.3 297.5,551.3 297.5,550.2 299.0,550.2 299.0,551.1 300.5,551.1 300.5,549.9 302.0,549.9 302.0,550.5 303.5,550.5 303.5,549.6 305.0,549.6 305.0,549.2 306.5,549.2 306.5,550.4 308.0,550.4 308.0,549.2 309.5,549.2 309.5,549.1 311.0,549.1 311.0,550.1 312.5,550.1 312.5,549.8 314.0,549.8 314.0,548.7 315.5,548.7 315.5,549.6 317.0,549.6 317.0,548.7 318.5,548.7 318.5,548.7 320.0,548.7 320.0,547.8 321.5,547.8 321.5,548.8 323.0,548.8 323.0,548.2 324.5,548.2 324.5,548.4 326.0,548.4 326.0,548.1 327.5,548.1 327.5,547.0 329.0,547.0 329.0,546.9 330.5,546.9 330.5,546.4 332.0,546.4 332.0,546.3 333.5,546.3 333.5,546.0 335.0,546.0 335.0,546.3 336.5,546.3 336.5,546.7 338.0,546.7 338.0,545.6 339.5,545.6 339.5,546.6 341.0,546.6 341.0,545.9 342.5,545.9 342.5,545.8 344.0,545.8 344.0,546.5 345.5,546.5 345.5,545.8 347.0,545.8 347.0,545.4 348.5,545.4 348.5,545.6 350.0,545.6 350.0,545.8 351.5,545.8 351.5,544.7 353.0,544.7 353.0,546.0 354.5,546.0 354.5,544.4 356.0,544.4 356.0,545.4 357.5,545.4 357.5,545.5 359.0,545.5 359.0,544.1 360.5,544.1 360.5,545.2 362.0,545.2 362.0,544.4 363.5,544.4 363.5,544.6 365.0,544.6 365.0,543.6 366.5,543.6 366.5,543.5 368.0,543.5 368.0,543.6 369.5,543.6 369.5,544.8 371.0,544.8 371.0,543.4 372.5,543.4 372.5,544.2 374.0,544.2 374.0,544.3 375.5,544.3 375.5,544.2 377.0,544.2 377.0,543.1 378.5,543.1 378.5,543.0 380.0,543.0 380.0,543.1 381.5,543.1 381.5,543.4 383.0,543.4 383.0,542.2 384.5,542.2 384.5,543.0 386.0,543.0 386.0,543.0 387.5,543.0 387.5,542.9 389.0,542.9 389.0,541.5 390.5,541.5 390.5,542.8 392.5,542.0 392.5,555.6 266.0,555.6" fill="#b50d31" stroke="#b50d31" stroke-width="0.8" stroke-linejoin="round"/>
<path d="M295.2,552.5 h2.0 v2.4 h-2.0 Z M299.5,552.3 h2.7 v2.1 h-2.7 Z M306.0,551.7 h3.3 v1.8 h-3.3 Z M319.1,552.2 h3.2 v2.2 h-3.2 Z M327.5,550.6 h1.9 v2.6 h-1.9 Z M334.6,549.3 h2.1 v3.0 h-2.1 Z M340.8,549.6 h2.9 v2.8 h-2.9 Z M349.3,549.1 h2.5 v2.2 h-2.5 Z M353.9,547.3 h3.0 v3.1 h-3.0 Z M362.5,546.6 h2.8 v2.2 h-2.8 Z M368.9,547.0 h1.6 v2.6 h-1.6 Z M373.9,545.4 h1.9 v2.8 h-1.9 Z M377.8,545.5 h2.2 v2.6 h-2.2 Z M384.9,546.0 h3.3 v3.5 h-3.3 Z" fill="#e49aab"/>
<polyline points="111.6,555.4 113.9,555.4 113.9,555.7 116.3,555.7 116.3,555.5 118.6,555.5 118.6,555.6 121.0,555.6 121.0,555.7 123.3,555.7 123.3,555.7 125.7,555.7 125.7,555.6 128.0,555.6 128.0,555.6 130.4,555.6 130.4,555.4 132.7,555.4 132.7,555.6 135.1,555.6 135.1,555.5 137.4,555.5 137.4,555.7 139.8,555.7 139.8,555.6 142.1,555.6 142.1,555.7 144.5,555.7 144.5,555.6 146.8,555.6 146.8,555.5 149.2,555.5 149.2,555.7 151.5,555.7 151.5,555.7 153.9,555.7 153.9,555.6 156.2,555.6 156.2,555.4 158.6,555.4 158.6,554.3 160.9,554.3 160.9,551.4 163.3,551.4 163.3,548.7 165.6,548.7 165.6,545.5 168.0,545.5 168.0,543.2 170.3,543.2 170.3,541.7 172.7,541.7 172.7,540.9 175.0,540.9 175.0,539.7 177.4,539.7 177.4,537.5 179.7,537.5 179.7,537.0 182.1,537.0 182.1,534.7 184.4,534.7 184.4,532.7 186.8,532.7 186.8,535.6 189.1,535.6 189.1,533.0 191.5,533.0 191.5,529.9 193.8,529.9 193.8,530.4 196.2,530.4 196.2,526.9 198.5,526.9 198.5,523.9 200.9,523.9 200.9,518.6 203.2,518.6 203.2,512.5 205.6,512.5 205.6,509.1 207.9,509.1 207.9,504.8 210.3,504.8 210.3,501.1 212.6,501.1 212.6,496.9 215.0,496.9 215.0,495.2 217.3,495.2 217.3,493.6 219.7,493.6 219.7,491.3 222.0,491.3 222.0,492.6 224.4,492.6 224.4,492.1 226.7,492.1 226.7,490.0 229.1,490.0 229.1,490.9 231.4,490.9 231.4,491.0 233.8,491.0 233.8,491.5 236.1,491.5 236.1,491.0 238.5,491.0 238.5,494.8 240.8,494.8 240.8,497.5 243.2,497.5 243.2,497.5 245.5,497.5 245.5,501.5 247.9,501.5 247.9,504.8 250.2,504.8 250.2,507.4 252.6,507.4 252.6,512.3 254.9,512.3 254.9,515.7 257.3,515.7 257.3,526.9 259.6,526.9 259.6,529.2 262.0,529.2 262.0,525.7 264.3,525.7 264.3,535.4 266.7,535.4 266.7,540.4 269.0,540.4 269.0,548.0 271.4,548.0 271.4,545.9 273.7,545.9 273.7,549.5 276.1,549.5 276.1,540.5 278.4,540.5 278.4,546.4 280.8,546.4 280.8,549.8 283.1,549.8 283.1,547.5 285.5,547.5 285.5,547.5 287.8,547.5 287.8,553.5 290.2,553.5 290.2,548.5 292.6,548.5 292.6,541.6 294.9,541.6 294.9,545.5 297.3,545.5 297.3,553.1 299.6,553.1 299.6,552.6 302.0,552.6 302.0,552.5 304.3,552.5 304.3,549.1 306.7,549.1 306.7,551.5 309.0,551.5 309.0,550.2 311.4,550.2 311.4,553.0 313.7,553.0 313.7,551.6 316.1,551.6 316.1,552.5 318.4,552.5 318.4,552.6 320.8,552.6 320.8,549.6 323.1,549.6 323.1,551.8 325.5,551.8 325.5,547.8 327.8,547.8 327.8,548.6 330.2,548.6 330.2,553.3 332.5,553.3 332.5,549.9 334.9,549.9 334.9,551.8 337.2,551.8 337.2,551.1 339.6,551.1 339.6,549.1 341.9,549.1 341.9,551.2 344.3,551.2 344.3,553.4 346.6,553.4 346.6,549.7 349.0,549.7 349.0,549.8 351.3,549.8 351.3,548.8 353.7,548.8 353.7,548.8 356.0,548.8 356.0,553.0 358.4,553.0 358.4,552.3 360.7,552.3 360.7,554.0 363.1,554.0 363.1,545.0 365.4,545.0 365.4,540.4 367.8,540.4 367.8,535.7 370.1,535.7 370.1,536.7 372.5,536.7 372.5,547.3 374.8,547.3 374.8,548.4 377.2,548.4 377.2,552.4 379.5,552.4 379.5,547.6 381.9,547.6 381.9,549.2 384.2,549.2 384.2,546.8 386.6,546.8 386.6,546.7 388.9,546.7 388.9,550.1 391.3,550.1 391.3,550.7" fill="none" stroke="#aa0a2e" stroke-width="4.4" stroke-linejoin="miter" stroke-miterlimit="3"/>
<polyline points="240.6,492.4 242.9,492.4 242.9,496.9 245.3,496.9 245.3,498.8 247.6,498.8 247.6,503.0 250.0,503.0 250.0,502.2 252.3,502.2 252.3,504.9 254.7,504.9 254.7,509.3 257.0,509.3 257.0,517.5 259.4,517.5 259.4,525.3 261.8,525.3 261.8,529.0 264.1,529.0 264.1,529.3 266.5,529.3 266.5,537.8 268.8,537.8 268.8,542.6 271.2,542.6 271.2,546.6 273.5,546.6 273.5,550.4" fill="none" stroke="#aa0a2e" stroke-width="4.0" stroke-linejoin="miter" stroke-miterlimit="3"/>
<polyline points="285.0,552.3 287.4,551.2 289.7,550.9 292.1,551.6 294.4,550.5 296.8,550.1 299.1,550.4 301.5,549.8 303.8,550.1 306.2,549.2 308.5,549.6 310.9,548.7 313.2,548.7 315.6,548.7 317.9,548.1 320.3,548.0 322.6,547.5 325.0,546.5 327.3,547.0 329.7,546.4 332.0,546.0 334.4,545.7 336.7,546.1 339.1,545.7 341.4,545.9 343.8,545.5 346.1,545.6 348.5,545.0 350.8,544.9 353.2,544.7 355.5,544.1 357.9,544.7 360.2,543.8 362.6,544.1 364.9,544.1 367.3,543.7 369.6,543.0 372.0,543.4 374.3,543.1 376.7,542.4 379.0,542.0 381.4,542.3 383.7,541.6 386.1,542.2 388.4,541.6 390.8,541.4" fill="none" stroke="#2b4785" stroke-width="3.6" stroke-linejoin="round" stroke-miterlimit="3"/>
<polyline points="111.6,555.3 113.9,555.7 116.3,555.7 118.6,555.6 121.0,555.3 123.3,555.8 125.7,555.8 128.0,555.5 130.4,555.5 132.7,555.3 135.1,555.1 137.4,555.4 139.8,555.6 142.1,555.1 144.5,555.7 146.8,555.2 149.2,555.2 151.5,555.1 153.9,555.8 156.2,555.6 158.6,555.7 160.9,555.5 163.3,555.0 165.6,555.2 168.0,555.3 170.3,555.0 172.7,555.6 175.0,555.1 177.4,554.9 179.7,555.5 182.1,554.9 184.4,555.5 186.8,555.1 189.1,555.2 191.5,555.0 193.8,555.0 196.2,554.8 198.5,554.6 200.9,555.3 203.2,554.7 205.6,555.1 207.9,554.6 210.3,555.2 212.6,555.1 215.0,554.9 217.3,554.9 219.7,554.7 222.0,554.7 224.4,554.2 226.7,554.4 229.1,554.7 231.4,554.1 233.8,554.5 236.1,554.4 238.5,553.9 240.8,553.7 243.2,553.7 245.5,553.5 247.9,553.9 250.2,553.2 252.6,552.8 254.9,552.8 257.3,553.1 259.6,553.2 262.0,552.7 264.3,552.6 266.7,552.5 269.0,552.5 271.4,551.9 273.7,552.0 276.1,551.6 278.4,551.4 280.8,550.8 283.1,550.5 285.5,550.4 287.8,550.6 290.2,549.9 292.6,549.8 294.9,549.3 297.3,548.8 299.6,548.5 302.0,548.9 304.3,548.6 306.7,548.0 309.0,548.0 311.4,547.7 313.7,547.5 316.1,547.2 318.4,546.5 320.8,546.6 323.1,546.3 325.5,545.7 327.8,545.6 330.2,545.0 332.5,544.7 334.9,544.4 337.2,544.8 339.6,544.0 341.9,543.8 344.3,544.2 346.6,544.0 349.0,543.6 351.3,543.7 353.7,542.9 356.0,542.9 358.4,542.7 360.7,542.6 363.1,542.3 365.4,542.0 367.8,542.0 370.1,542.3 372.5,542.2 374.8,541.8 377.2,541.3 379.5,540.9 381.9,541.3 384.2,540.7 386.6,540.6 388.9,539.9 391.3,539.8 392.3,540.0 392.3,556.0" fill="none" stroke="#283f78" stroke-width="3.8" stroke-linejoin="round" stroke-miterlimit="3"/>
<text x="208.3" y="614.0" font-size="23.4" textLength="95.0" lengthAdjust="spacingAndGlyphs" class="t">Time (min)</text>
<text transform="translate(58.0,484.9) rotate(-90)" x="0" y="0" font-size="21.5" textLength="52.0" lengthAdjust="spacingAndGlyphs" class="t">nM IIa</text>
<rect x="338.4" y="331.5" width="21" height="4.2" fill="#283f7c"/>
<g transform="translate(363.9,338.8)"><text x="0.00" y="0" font-size="16" class="t">PRP 200M/L</text></g>
<rect x="338.4" y="358.3" width="21" height="4.2" fill="#aa0a2e"/>
<g transform="translate(363.9,365.6)"><text x="0.00" y="0" font-size="16" class="t">DNA 50µg/ml</text></g>
<rect x="338.4" y="385.0" width="21" height="4.2" fill="#bd3a5a"/>
<g transform="translate(363.9,392.3)"><text x="0.00" y="0" font-size="16" class="t">DNA 25µg/ml</text></g>
<rect x="338.4" y="411.8" width="21" height="4.2" fill="#cc8296"/>
<g transform="translate(363.9,419.1)"><text x="0.00" y="0" font-size="16" class="t">DNA  2.5µg/ml</text><path d="M515,0 L515,1237 L197,1010 L197,1180 L530,1409 L696,1409 L696,0 Z" transform="translate(38.23,0) scale(0.007812,-0.007812)" fill="#000" stroke="#000" stroke-width="38.4"/></g>
<rect x="338.4" y="438.6" width="21" height="4.2" fill="#5ca042"/>
<g transform="translate(363.9,445.9)"><text x="0.00" y="0" font-size="16" class="t">rmNucl 80/60 µg/ml</text></g>
<rect x="338.4" y="465.4" width="21" height="4.2" fill="#8ab872"/>
<g transform="translate(363.9,472.7)"><text x="0.00" y="0" font-size="16" class="t">rmNucl 40/30 µg/ml</text></g>
<rect x="338.4" y="492.1" width="21" height="4.2" fill="#afd39b"/>
<g transform="translate(363.9,499.4)"><text x="0.00" y="0" font-size="16" class="t">rmNucl 20/ 5 µg/ml</text><path d="M515,0 L515,1237 L197,1010 L197,1180 L530,1409 L696,1409 L696,0 Z" transform="translate(77.35,0) scale(0.007812,-0.007812)" fill="#000" stroke="#000" stroke-width="38.4"/></g>
</svg>
</body></html>
